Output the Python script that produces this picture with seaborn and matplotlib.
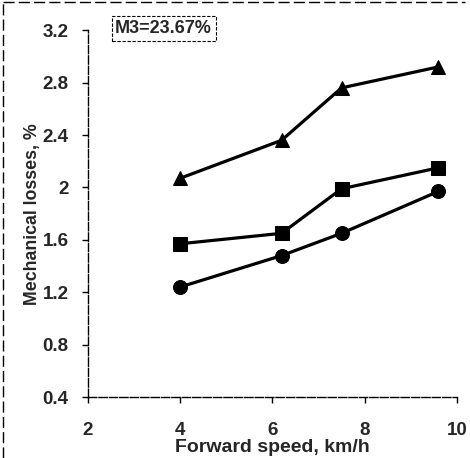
import pandas as pd
import matplotlib.pyplot as plt
import seaborn as sns

# Datos
speed = [4.0, 6.2, 7.5, 9.6]
loss_triangle = [2.07, 2.36, 2.76, 2.92]
loss_square = [1.57, 1.65, 1.99, 2.15]
loss_circle = [1.24, 1.48, 1.65, 1.97]
x_ticks = [2, 4, 6, 8, 10]
y_ticks = [0.4, 0.8, 1.2, 1.6, 2.0, 2.4, 2.8, 3.2]
y_tick_labels = ["0.4", "0.8", "1.2", "1.6", "2", "2.4", "2.8", "3.2"]

sns.set_theme(style="white")
plt.rcParams['font.family'] = ['Liberation Sans', 'DejaVu Sans']
plt.rcParams['font.weight'] = 'bold'

df = pd.DataFrame({
    'speed': speed * 3,
    'loss': loss_triangle + loss_square + loss_circle,
    'serie': ['tri'] * 4 + ['sq'] * 4 + ['circ'] * 4,
})

fig = plt.figure(figsize=(4.7, 4.58), dpi=100)
ax = fig.add_axes([0.187, 0.133, 0.785, 0.801])

sns.lineplot(
    data=df, x='speed', y='loss', hue='serie', style='serie',
    palette={'tri': 'black', 'sq': 'black', 'circ': 'black'},
    markers={'tri': '^', 'sq': 's', 'circ': 'o'},
    dashes=False, markersize=10, linewidth=2.3, legend=False, ax=ax,
    markeredgecolor='black',
)

ax.set_xlim(2, 10)
ax.set_ylim(0.4, 3.2)
ax.set_xticks(x_ticks)
ax.set_yticks(y_ticks)
ax.set_yticklabels(y_tick_labels)
ax.tick_params(axis='both', labelsize=13.5, length=4, width=1, color='black',
               direction='out', bottom=True, left=True)
ax.tick_params(axis='x', pad=14)
ax.tick_params(axis='y', pad=10)
for lab in ax.get_xticklabels() + ax.get_yticklabels():
    lab.set_fontweight('bold')

sns.despine(ax=ax)
for s in ['left', 'bottom']:
    ax.spines[s].set_color('black')
    ax.spines[s].set_linewidth(1)
    ax.spines[s].set_linestyle((0, (6, 1.5)))

ax.set_xlabel('Forward speed, km/h', fontsize=14, fontweight='bold', labelpad=0)
ax.set_ylabel('Mechanical losses, %', fontsize=12.8, fontweight='bold', labelpad=1)

ax.text(0.074, 1.005, 'M3=23.67%', transform=ax.transAxes, fontsize=13,
        fontweight='bold', va='center', ha='left',
        bbox=dict(boxstyle='square,pad=0.2', fc='white', ec='black',
                  lw=0.8, ls=(0, (3, 1.5))))

# Marco exterior del escaneo
fig.add_artist(plt.Line2D([0.006, 0.006], [0.0, 0.995], color='black',
                          lw=1, ls=(0, (8, 3)), transform=fig.transFigure))
fig.add_artist(plt.Line2D([0.006, 0.99], [0.995, 0.995], color='black',
                          lw=1, ls=(0, (8, 3)), transform=fig.transFigure))

plt.savefig('out.png', dpi=100)
